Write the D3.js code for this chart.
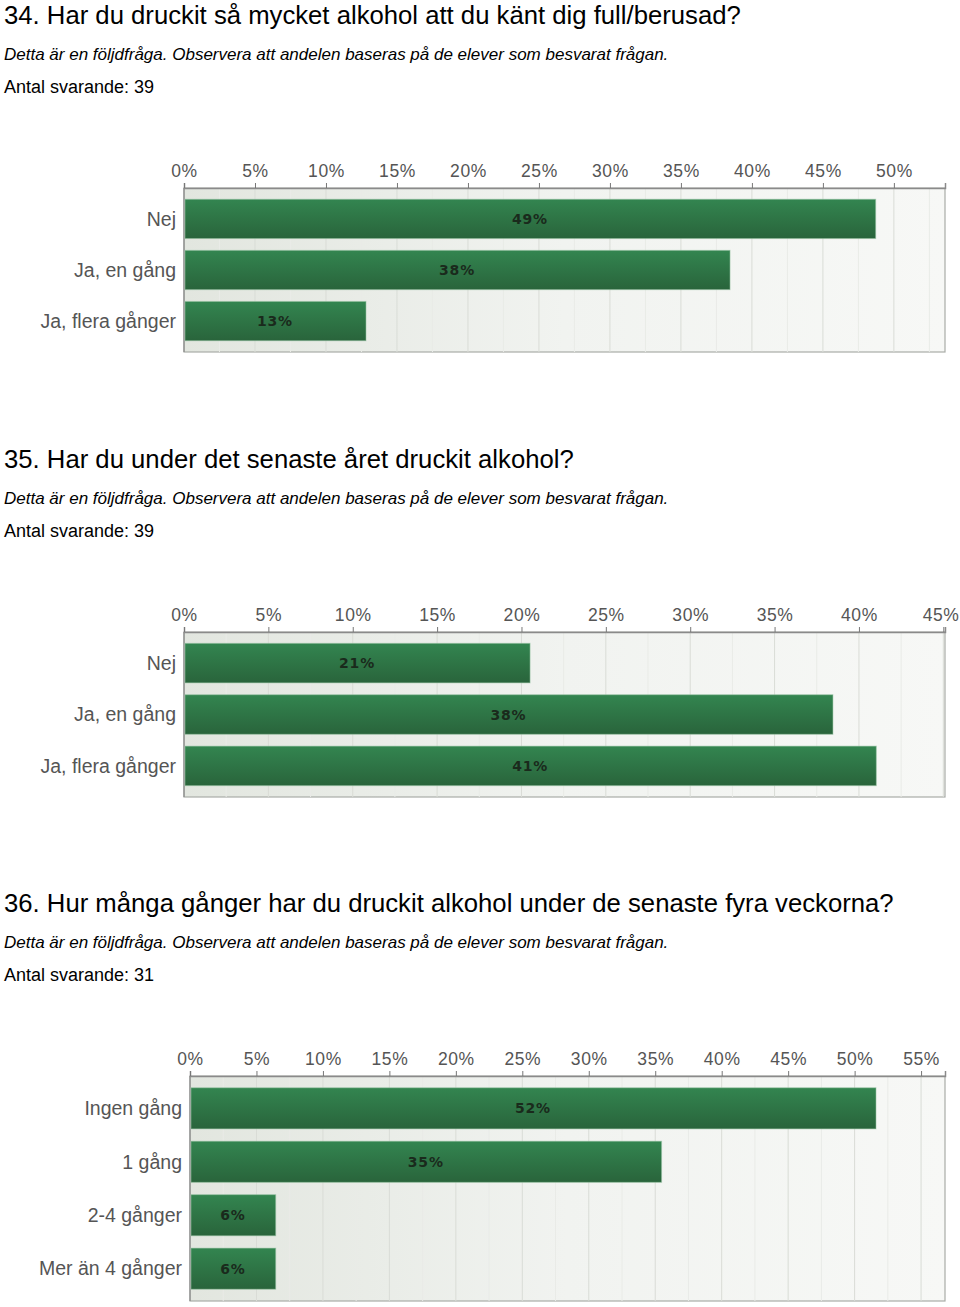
<!DOCTYPE html>
<html>
<head>
<meta charset="utf-8">
<script src="https://cdnjs.cloudflare.com/ajax/libs/d3/7.8.5/d3.min.js"></script>
<style>
  body { margin: 0; background: #fff; }
  svg { display: block; }
</style>
</head>
<body>
<div id="container"></div>
<script>
var width = 960,
    height = 1307;

// data
var titles = [
  "34. Har du druckit så mycket alkohol att du känt dig full/berusad?",
  "35. Har du under det senaste året druckit alkohol?",
  "36. Hur många gånger har du druckit alkohol under de senaste fyra veckorna?"
];
var note = "Detta är en följdfråga. Observera att andelen baseras på de elever som besvarat frågan.";
var respondents = [39, 39, 31];

var cats1 = ["Nej", "Ja, en gång", "Ja, flera gånger"];
var vals1 = [48.72, 38.46, 12.82];
var ticks1 = [0, 5, 10, 15, 20, 25, 30, 35, 40, 45, 50];

var cats2 = ["Nej", "Ja, en gång", "Ja, flera gånger"];
var vals2 = [20.51, 38.46, 41.03];
var ticks2 = [0, 5, 10, 15, 20, 25, 30, 35, 40, 45];

var cats3 = ["Ingen gång", "1 gång", "2-4 gånger", "Mer än 4 gånger"];
var vals3 = [51.61, 35.48, 6.45, 6.45];
var ticks3 = [0, 5, 10, 15, 20, 25, 30, 35, 40, 45, 50, 55];

var svg = d3.select('#container').append('svg')
    .attr("width", width)
    .attr("height", height);

var defs = svg.append("defs");
var bg = defs.append("linearGradient").attr("id", "bg")
    .attr("x1", 0).attr("x2", 1).attr("y1", 0).attr("y2", 0);
bg.append("stop").attr("offset", "0%").attr("stop-color", "#e2e6df");
bg.append("stop").attr("offset", "50%").attr("stop-color", "#f1f3f0");
bg.append("stop").attr("offset", "100%").attr("stop-color", "#f7f8f6");

var barGrad = defs.append("linearGradient").attr("id", "bar")
    .attr("x1", 0).attr("x2", 0).attr("y1", 0).attr("y2", 1);
barGrad.append("stop").attr("offset", "0%").attr("stop-color", "#338550");
barGrad.append("stop").attr("offset", "100%").attr("stop-color", "#29643b");

var fmt = function(v) { return Math.round(v) + "%"; };

function drawBlock(i, y0, cats, vals, ticks, maxV, left, plotH) {
  var g = svg.append("g").attr("transform", "translate(0," + y0 + ")");

  g.append("text").attr("x", 4).attr("y", 24)
    .style("font", "25.7px 'Liberation Sans', Arial, sans-serif")
    .style("fill", "#000")
    .text(titles[i]);
  g.append("text").attr("x", 4).attr("y", 60)
    .style("font", "italic 17px 'Liberation Sans', Arial, sans-serif")
    .style("fill", "#000")
    .text(note);
  g.append("text").attr("x", 4).attr("y", 93)
    .style("font", "18px 'Liberation Sans', Arial, sans-serif")
    .style("fill", "#000")
    .text("Antal svarande: " + respondents[i]);

  var top = 188, right = 945;
  var x = d3.scaleLinear().domain([0, maxV]).range([left, right]);
  var y = d3.scaleBand().domain(cats).range([top, top + plotH])
    .paddingInner(0.23).paddingOuter(0.22);

  // plot background
  g.append("rect")
    .attr("x", left).attr("y", top)
    .attr("width", right - left).attr("height", plotH)
    .style("fill", "url(#bg)")
    .style("stroke", "#a9aca7")
    .style("stroke-width", 1.2);

  // faint minor lines
  g.selectAll(".minor")
    .data(ticks.map(function(t) { return t + 2.5; }).filter(function(t) { return t < maxV; }))
    .enter().append("line")
    .attr("x1", function(d) { return x(d); }).attr("x2", function(d) { return x(d); })
    .attr("y1", top).attr("y2", top + plotH)
    .style("stroke", "#e9ebe7").style("stroke-width", 1);

  // major grid
  g.selectAll(".grid")
    .data(ticks.slice(1))
    .enter().append("line")
    .attr("x1", function(d) { return x(d); }).attr("x2", function(d) { return x(d); })
    .attr("y1", top).attr("y2", top + plotH)
    .style("stroke", "#d9dcd6").style("stroke-width", 1);

  // top axis
  var axis = d3.axisTop(x).tickValues(ticks).tickSize(5).tickPadding(6)
    .tickFormat(function(d) { return d + "%"; });
  var ax = g.append("g").attr("transform", "translate(0," + top + ")").call(axis);
  ax.select(".domain").style("stroke", "#8a8a8a").style("stroke-width", 1.5);
  ax.selectAll(".tick line").style("stroke", "#777");
  ax.selectAll(".tick text")
    .style("font-family", "'Liberation Sans', Arial, sans-serif")
    .style("font-size", "17.5px")
    .style("letter-spacing", "0.6px")
    .style("fill", "#555")
    .each(function(d) {
      // keep the last label inside the page
      var b = this.getBBox();
      var over = x(d) + b.x + b.width - (width - 1);
      if (over > 0) d3.select(this).attr("dx", -over);
    });

  // left axis line
  g.append("line")
    .attr("x1", left).attr("x2", left)
    .attr("y1", top).attr("y2", top + plotH)
    .style("stroke", "#8a8a8a").style("stroke-width", 1.2);

  // bars
  var data = cats.map(function(c, k) { return { cat: c, v: vals[k] }; });
  g.selectAll(".bar")
    .data(data)
    .enter().append("rect")
    .attr("class", "bar")
    .attr("x", x(0) + 1)
    .attr("y", function(d) { return y(d.cat); })
    .attr("width", function(d) { return x(d.v) - x(0) - 1; })
    .attr("height", y.bandwidth())
    .style("fill", "url(#bar)")
    .style("stroke", "#9cc7a8")
    .style("stroke-opacity", 0.55)
    .style("stroke-width", 1);

  g.selectAll(".vlab")
    .data(data)
    .enter().append("text")
    .attr("x", function(d) { return (x(0) + x(d.v)) / 2; })
    .attr("y", function(d) { return y(d.cat) + y.bandwidth() / 2; })
    .attr("dy", "0.36em")
    .attr("text-anchor", "middle")
    .style("font", "bold 14px 'DejaVu Sans', Verdana, sans-serif")
    .style("letter-spacing", "0.8px")
    .style("fill", "#1a2a1c")
    .text(function(d) { return fmt(d.v); });

  g.selectAll(".clab")
    .data(cats)
    .enter().append("text")
    .attr("x", left - 8)
    .attr("y", function(d) { return y(d) + y.bandwidth() / 2; })
    .attr("dy", "0.35em")
    .attr("text-anchor", "end")
    .style("font", "19.5px 'Liberation Sans', Arial, sans-serif")
    .style("fill", "#555")
    .text(function(d) { return d; });
}

drawBlock(0, 0, cats1, vals1, ticks1, 53.6, 184, 164);
drawBlock(1, 444, cats2, vals2, ticks2, 45.1, 184, 165);
drawBlock(2, 888, cats3, vals3, ticks3, 56.8, 190, 225);
</script>
</body>
</html>
